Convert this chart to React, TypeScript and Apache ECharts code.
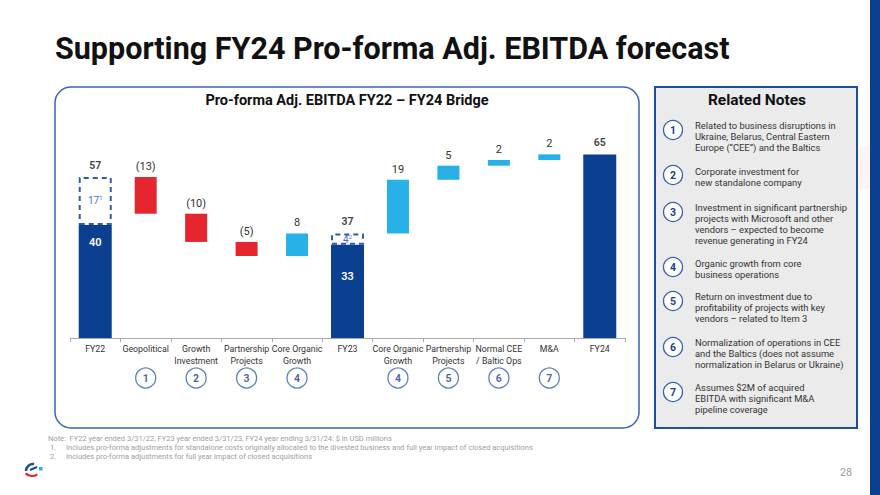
import React, { useEffect, useRef } from "react";
import * as echarts from "echarts";

const categories = [
  "FY22",
  "Geopolitical",
  "Growth\nInvestment",
  "Partnership\nProjects",
  "Core Organic\nGrowth",
  "FY23",
  "Core Organic\nGrowth",
  "Partnership\nProjects",
  "Normal CEE\n/ Baltic Ops",
  "M&A",
  "FY24",
];
// Reported (solid) part of totals
const totalSolid: (number | null)[] = [40, null, null, null, null, 33, null, null, null, null, 65];
// Pro-forma adjustments (dashed) on totals
const totalAdj: (number | null)[] = [17, null, null, null, null, 4, null, null, null, null, null];
const adjNote: string[] = ["1", "", "", "", "", "2", "", "", "", "", ""];
// Bridge movements
const deltas: (number | null)[] = [null, -13, -10, -5, 8, null, 19, 5, 2, 2, null];
// Note references under categories
const noteRefs: string[] = ["", "1", "2", "3", "4", "", "4", "5", "6", "7", ""];

const notes: string[][] = [
  ["Related to business disruptions in", "Ukraine, Belarus, Central Eastern", "Europe (\u201CCEE\u201D) and the Baltics"],
  ["Corporate investment for", "new standalone company"],
  ["Investment in significant partnership", "projects with Microsoft and other", "vendors \u2013 expected to become", "revenue generating in FY24"],
  ["Organic growth from core", "business operations"],
  ["Return on investment due to", "profitability of projects with key", "vendors \u2013 related to Item 3"],
  ["Normalization of operations in CEE", "and the Baltics (does not assume", "normalization in Belarus or Ukraine)"],
  ["Assumes $2M of acquired", "EBITDA with significant M&A", "pipeline coverage"],
];
const noteY = [130, 175, 212, 267, 301, 347, 392];

const footnotes = [
  "Note:  FY22 year ended 3/31/22, FY23 year ended 3/31/23, FY24 year ending 3/31/24: $ in USD millions",
  "Includes pro-forma adjustments for standalone costs originally allocated to the divested business and full year impact of closed acquisitions",
  "Includes pro-forma adjustments for full year impact of closed acquisitions",
];

const DARK = "#0B3F8F";
const RED = "#E6262E";
const LIGHT = "#27B1E7";
const CIRCLE = "#3562B0";
const FONT = "Roboto";

export default function App() {
  const ref = useRef<HTMLDivElement>(null);
  useEffect(() => {
    if (!ref.current) return;
    const chart = echarts.init(ref.current, null, { renderer: "svg" });

    // running totals for waterfall base
    const base: any[] = [];
    let run = 0;
    categories.forEach((_, i) => {
      if (totalSolid[i] != null) {
        run = (totalSolid[i] as number) + (totalAdj[i] || 0);
        base.push("-");
      } else {
        const d = deltas[i] as number;
        const next = run + d;
        base.push(Math.min(run, next));
        run = next;
      }
    });

    const deltaData = deltas.map((d) =>
      d == null
        ? "-"
        : { value: Math.abs(d), itemStyle: { color: d < 0 ? RED : LIGHT } }
    );
    const totalLabelData = categories.map((_, i) =>
      totalSolid[i] != null ? (totalSolid[i] as number) + (totalAdj[i] || 0) : "-"
    );

    const graphic: any[] = [];
    graphic.push({ type: "rect", shape: { x: 870, y: 0, width: 10, height: 495 }, style: { fill: DARK } });
    // faint background swooshes
    graphic.push({ type: "ellipse", shape: { cx: 780, cy: 455, rx: 70, ry: 22 }, rotation: 0.35, style: { fill: "rgba(230,38,46,0.05)" }, z: -1 });
    graphic.push({ type: "ellipse", shape: { cx: 820, cy: 330, rx: 60, ry: 18 }, rotation: 0.6, style: { fill: "rgba(39,177,231,0.05)" }, z: -1 });
    graphic.push({
      type: "text",
      left: 55,
      top: 33,
      style: { text: "Supporting FY24 Pro-forma Adj. EBITDA forecast", font: `bold 30.5px ${FONT}`, fill: "#111" },
    });
    graphic.push({
      type: "rect",
      shape: { x: 55, y: 87, width: 584, height: 341, r: 16 },
      style: { fill: "none", stroke: "#3A66B4", lineWidth: 1.5 },
    });
    graphic.push({
      type: "text",
      x: 347,
      y: 100,
      style: { text: "Pro-forma Adj. EBITDA FY22 \u2013 FY24 Bridge", font: `bold 14.5px ${FONT}`, fill: "#111", align: "center", verticalAlign: "middle" },
    });
    graphic.push({
      type: "rect",
      shape: { x: 655, y: 87, width: 202, height: 341 },
      style: { fill: "#EBEBEB", stroke: "#1F4E9A", lineWidth: 2 },
      z: 0,
    });
    graphic.push({
      type: "text",
      x: 757,
      y: 100,
      style: { text: "Related Notes", font: `bold 15.5px ${FONT}`, fill: "#111", align: "center", verticalAlign: "middle" },
    });
    notes.forEach((lines, i) => {
      const cy = noteY[i];
      graphic.push({
        type: "circle",
        shape: { cx: 673, cy, r: 9.5 },
        style: { fill: "#fff", stroke: CIRCLE, lineWidth: 1.3 },
      });
      graphic.push({
        type: "text",
        x: 673,
        y: cy + 0.5,
        style: { text: String(i + 1), font: `bold 10.5px ${FONT}`, fill: "#1E3E8A", align: "center", verticalAlign: "middle" },
      });
      const n = lines.length;
      const top = cy - (n === 2 ? 4 : 5);
      lines.forEach((t, j) => {
        graphic.push({
          type: "text",
          x: 695,
          y: top + j * 11,
          style: { text: t, font: `9.4px ${FONT}`, fill: "#333", verticalAlign: "middle" },
        });
      });
    });
    graphic.push({
      type: "text",
      x: 48,
      y: 438,
      style: { text: footnotes[0], font: `7.5px ${FONT}`, fill: "#a0a0a0", verticalAlign: "middle" },
    });
    [1, 2].forEach((k) => {
      graphic.push({
        type: "text",
        x: 50,
        y: 438 + k * 9,
        style: { text: `${k}.`, font: `7.5px ${FONT}`, fill: "#a0a0a0", verticalAlign: "middle" },
      });
      graphic.push({
        type: "text",
        x: 66,
        y: 438 + k * 9,
        style: { text: footnotes[k], font: `7.5px ${FONT}`, fill: "#a0a0a0", verticalAlign: "middle" },
      });
    });
    graphic.push({
      type: "text",
      x: 846,
      y: 472,
      style: { text: "28", font: `10.5px ${FONT}`, fill: "#999", align: "center", verticalAlign: "middle" },
    });
    // logo
    graphic.push({ type: "arc", shape: { cx: 33, cy: 471, r: 7, startAngle: Math.PI * 1.0, endAngle: Math.PI * 1.55 }, style: { stroke: "#1F4E9A", lineWidth: 2.5, fill: "none" } });
    graphic.push({ type: "line", shape: { x1: 30, y1: 470, x2: 37, y2: 467 }, style: { stroke: "#1F4E9A", lineWidth: 2 } });
    graphic.push({ type: "arc", shape: { cx: 32, cy: 467, r: 9, startAngle: Math.PI * 0.3, endAngle: Math.PI * 0.75 }, style: { stroke: "#E6262E", lineWidth: 2.2, fill: "none" } });
    graphic.push({ type: "rect", shape: { x: 39, y: 467, width: 3.5, height: 3.5 }, style: { fill: LIGHT } });

    const option: any = {
      animation: false,
      textStyle: { fontFamily: FONT },
      grid: [
        { left: 70, width: 555, top: 112, height: 226 },
        { left: 70, width: 555, top: 368, height: 20 },
      ],
      xAxis: [
        {
          type: "category",
          gridIndex: 0,
          data: categories,
          axisLine: { lineStyle: { color: "#aaa", width: 1 } },
          axisTick: { show: true, length: 4, lineStyle: { color: "#aaa" } },
          axisLabel: { interval: 0, fontSize: 8.8, color: "#333", lineHeight: 12, margin: 5, fontFamily: FONT },
        },
        { type: "category", gridIndex: 0, data: categories, show: false },
        { type: "category", gridIndex: 1, data: categories, show: false },
      ],
      yAxis: [
        { type: "value", gridIndex: 0, min: 0, max: 80, show: false, splitLine: { show: false } },
        { type: "value", gridIndex: 1, min: 0, max: 1, show: false, splitLine: { show: false } },
      ],
      series: [
        {
          name: "Reported",
          type: "bar",
          xAxisIndex: 0,
          yAxisIndex: 0,
          stack: "tot",
          barWidth: 33,
          itemStyle: { color: DARK },
          data: totalSolid.map((v, i) =>
            v == null
              ? "-"
              : {
                  value: v,
                  label: {
                    show: i !== categories.length - 1,
                    position: "insideTop",
                    distance: i === 0 ? 12 : 26,
                    color: "#fff",
                    fontSize: 11,
                    fontWeight: 600,
                  },
                }
          ),
        },
        {
          name: "Pro-forma adj.",
          type: "bar",
          xAxisIndex: 0,
          yAxisIndex: 0,
          stack: "tot",
          barWidth: 33,
          itemStyle: { color: "#fff", borderColor: "#2F5BAA", borderWidth: 2, borderType: [5, 4] },
          label: {
            show: true,
            position: "inside",
            formatter: (p: any) => `{a|${p.value}}{s|${adjNote[p.dataIndex]}}`,
            rich: {
              a: { fontSize: 10, color: "#4A73C2", fontFamily: FONT },
              s: { fontSize: 6, color: "#4A73C2", fontFamily: FONT, padding: [0, 0, 6, 0] },
            },
          },
          data: totalAdj.map((v) => (v == null ? "-" : v)),
        },
        {
          name: "Total label",
          type: "scatter",
          xAxisIndex: 0,
          yAxisIndex: 0,
          symbolSize: 0,
          silent: true,
          label: { show: true, position: "top", distance: 6, color: "#111", fontWeight: "bold", fontSize: 10.5 },
          data: totalLabelData,
        },
        {
          name: "Base",
          type: "bar",
          xAxisIndex: 1,
          yAxisIndex: 0,
          stack: "delta",
          barWidth: 22,
          itemStyle: { color: "transparent" },
          silent: true,
          data: base,
        },
        {
          name: "Change",
          type: "bar",
          xAxisIndex: 1,
          yAxisIndex: 0,
          stack: "delta",
          barWidth: 22,
          label: {
            show: true,
            position: "top",
            distance: 5,
            color: "#333",
            fontSize: 11,
            formatter: (p: any) => {
              const d = deltas[p.dataIndex] as number;
              return d < 0 ? `(${Math.abs(d)})` : `${d}`;
            },
          },
          data: deltaData,
        },
        {
          name: "Notes",
          type: "scatter",
          xAxisIndex: 2,
          yAxisIndex: 1,
          symbol: "circle",
          symbolSize: 20,
          itemStyle: { color: "#fff", borderColor: CIRCLE, borderWidth: 1.3 },
          label: {
            show: true,
            position: "inside",
            color: "#1E3E8A",
            fontWeight: "bold",
            fontSize: 10.5,
            formatter: (p: any) => noteRefs[p.dataIndex],
          },
          data: noteRefs.map((r) => (r ? 0.5 : "-")),
        },
      ],
      graphic,
    };
    chart.setOption(option);
    return () => chart.dispose();
  }, []);
  return (
    <div
      ref={ref}
      style={{ position: "fixed", left: 0, top: 0, width: 880, height: 495, background: "#fff" }}
    />
  );
}
